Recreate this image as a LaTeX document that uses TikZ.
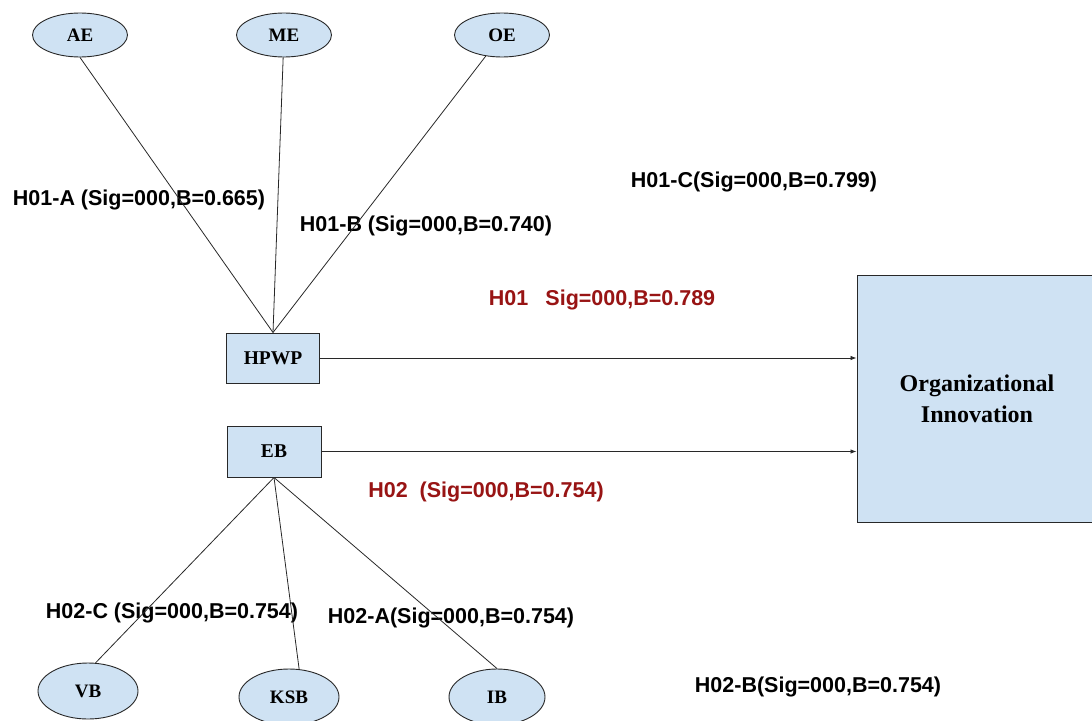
\documentclass[tikz,border=0pt]{standalone}
\usepackage{fontspec}
\setmainfont{Liberation Serif}
\setsansfont{Liberation Sans}
\usepackage{tikz}
\usetikzlibrary{shapes.geometric}
\usetikzlibrary{arrows.meta}
\definecolor{boxblue}{RGB}{207,226,243}
\definecolor{hypred}{RGB}{152,20,20}
\definecolor{edgegray}{RGB}{40,40,40}
\tikzset{construct/.style={shape=ellipse, draw=edgegray, line width=0.9pt, fill=boxblue, inner sep=0pt, minimum width=95pt, minimum height=44pt, font=\fontsize{19}{22}\selectfont\bfseries}}
\tikzset{varbox/.style={shape=rectangle, draw=edgegray, line width=1pt, fill=boxblue, inner sep=0pt, minimum width=93pt, minimum height=50pt, font=\fontsize{19.5}{22}\selectfont\bfseries}}
\tikzset{hyp/.style={inner sep=0pt, text=black, font=\sffamily\bfseries\fontsize{21.5}{24}\selectfont}}
\tikzset{hypmain/.style={hyp, text=hypred}}

\begin{document}
\begin{tikzpicture}[x=1pt, y=-1pt, line width=0.8pt, draw=edgegray]
		\useasboundingbox (0,0) rectangle (1092,720);
		\node[varbox] (HPWP) at (273,358) {HPWP};
		\node[varbox, minimum width=94pt, minimum height=51pt] (EB) at (274,451.5) {EB};
		\node[varbox, minimum width=240pt, minimum height=247pt, align=center, font=\fontsize{24}{31}\selectfont\bfseries] (OI) at (977,398.5) {Organizational\\Innovation};
		\node[construct] (AE) at (80,35) {AE};
		\node[construct] (ME) at (284,35) {ME};
		\node[construct] (OE) at (502,35) {OE};
		\node[construct, minimum width=100pt, minimum height=56pt] (VB) at (88,691) {VB};
		\node[construct, minimum width=100pt, minimum height=56pt] (KSB) at (289,697) {KSB};
		\node[construct, minimum width=96pt, minimum height=56pt] (IB) at (497,697) {IB};
		\node[hyp] (h01a) at (139,200) {H01-A (Sig=000,B=0.665)};
		\node[hyp] (h01b) at (426,226) {H01-B (Sig=000,B=0.740)};
		\node[hyp] (h01c) at (754,182) {H01-C(Sig=000,B=0.799)};
		\node[hypmain] (h01) at (602,300) {H01\hspace{0.8em}Sig=000,B=0.789};
		\node[hypmain] (h02) at (486,492) {H02~~(Sig=000,B=0.754)};
		\node[hyp] (h02c) at (172,613) {H02-C (Sig=000,B=0.754)};
		\node[hyp] (h02a) at (451,618) {H02-A(Sig=000,B=0.754)};
		\node[hyp] (h02b) at (818,687) {H02-B(Sig=000,B=0.754)};
		\path (AE.south) edge (HPWP.north);
		\path (ME) edge (HPWP.north);
		\path (OE) edge (HPWP.north);
		\path (EB.south) edge (VB.75);
		\path (EB.south) edge (KSB.70);
		\path (EB.south) edge (IB.north);
		\path [-{Latex[length=6pt,width=4.5pt]}] (HPWP) edge (HPWP -| OI.west);
		\path [-{Latex[length=6pt,width=4.5pt]}] (EB) edge (EB -| OI.west);
	\end{tikzpicture}
\end{document}
